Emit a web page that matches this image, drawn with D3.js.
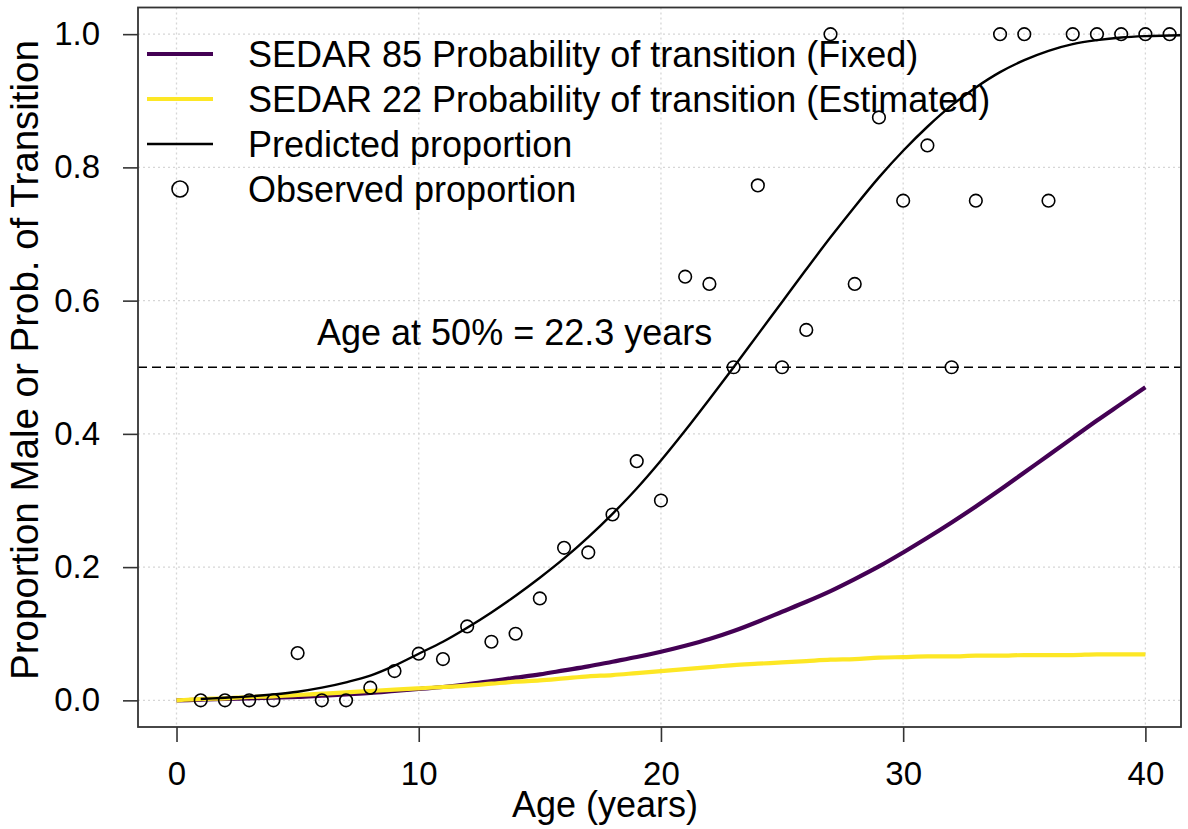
<!DOCTYPE html>
<html>
<head>
<meta charset="utf-8">
<script src="https://cdn.jsdelivr.net/npm/d3@7"></script>
<style>
  html, body { margin: 0; padding: 0; background: #fff; }
  svg { display: block; font-family: "Liberation Sans", Arial, Helvetica, sans-serif; }
</style>
</head>
<body>
<svg id="chart" width="1188" height="829"></svg>
<script>
// ---- data ----
const obsAge = [1,2,3,4,5,6,7,8,9,10,11,12,13,14,15,16,17,18,19,20,21,22,23,24,25,26,27,28,29,30,31,32,33,34,35,36,37,38,39,40,41];
const obsProp = [0,0,0,0,0.071,0,0,0.019,0.044,0.070,0.062,0.111,0.088,0.100,0.153,0.229,0.222,0.279,0.359,0.300,0.636,0.625,0.500,0.773,0.500,0.556,1.0,0.625,0.875,0.750,0.833,0.500,0.750,1.0,1.0,0.750,1.0,1.0,1.0,1.0,1.0];

const predAge = [1,2,3,4,5,6,7,8,9,10,11,12,13,14,15,16,17,18,19,20,21,22,23,24,25,26,27,28,29,30,31,32,33,34,35,36,37,38,39,40,41,42];
const predProp = [0.002,0.004,0.006,0.009,0.013,0.019,0.027,0.037,0.052,0.070,0.088,0.109,0.132,0.157,0.184,0.213,0.245,0.280,0.318,0.360,0.405,0.452,0.500,0.549,0.598,0.647,0.695,0.741,0.785,0.825,0.861,0.893,0.920,0.943,0.961,0.975,0.985,0.991,0.995,0.997,0.998,0.999];

const transAge = [0,1,2,3,4,5,6,7,8,9,10,11,12,13,14,15,16,17,18,19,20,21,22,23,24,25,26,27,28,29,30,31,32,33,34,35,36,37,38,39,40];
const sedar85 = [0,0.001,0.002,0.003,0.004,0.005,0.007,0.009,0.011,0.014,0.017,0.020,0.024,0.029,0.034,0.039,0.045,0.051,0.058,0.065,0.073,0.082,0.092,0.104,0.118,0.133,0.148,0.164,0.182,0.201,0.222,0.244,0.267,0.291,0.316,0.342,0.368,0.394,0.420,0.445,0.470];
const sedar22 = [0,0.002,0.003,0.005,0.006,0.008,0.010,0.012,0.014,0.016,0.018,0.020,0.022,0.025,0.028,0.030,0.033,0.036,0.038,0.041,0.044,0.047,0.050,0.053,0.055,0.057,0.059,0.061,0.062,0.064,0.065,0.066,0.066,0.067,0.067,0.068,0.068,0.068,0.069,0.069,0.069];

const xTicks = [0,10,20,30,40];
const yTicks = [0,0.2,0.4,0.6,0.8,1.0];
const a50Label = "Age at 50% = 22.3 years";
const a50Value = 0.5;
const legendLabels = [
  "SEDAR 85 Probability of transition (Fixed)",
  "SEDAR 22 Probability of transition (Estimated)",
  "Predicted proportion",
  "Observed proportion"
];

// ---- layout ----
const L = 138, R = 1181, T = 7.5, B = 727;
const svg = d3.select("#chart");
const x = d3.scaleLinear().domain([-1.59, 41.47]).range([L, R]);
const y = d3.scaleLinear().domain([-0.04, 1.04]).range([B, T]);

const purple = "#440154", yellow = "#FDE725";

svg.append("defs").append("clipPath").attr("id", "clip")
  .append("rect").attr("x", L).attr("y", T).attr("width", R - L).attr("height", B - T);

// grid
const grid = svg.append("g").attr("stroke", "#d6d6d6").attr("stroke-width", 1.3).attr("stroke-dasharray", "2,3");
grid.selectAll(".gx").data(xTicks).join("line")
  .attr("x1", d => x(d)).attr("x2", d => x(d)).attr("y1", T).attr("y2", B);
grid.selectAll(".gy").data(yTicks).join("line")
  .attr("x1", L).attr("x2", R).attr("y1", d => y(d)).attr("y2", d => y(d));

const plot = svg.append("g").attr("clip-path", "url(#clip)");

// 50% reference line
plot.append("line")
  .attr("x1", L).attr("x2", R).attr("y1", y(a50Value)).attr("y2", y(a50Value))
  .attr("stroke", "#000").attr("stroke-width", 1.4).attr("stroke-dasharray", "9,5");

const line = d3.line().curve(d3.curveMonotoneX);

plot.append("path")
  .attr("d", line(transAge.map((a, i) => [x(a), y(sedar85[i])])))
  .attr("fill", "none").attr("stroke", purple).attr("stroke-width", 4.2);
plot.append("path")
  .attr("d", line(transAge.map((a, i) => [x(a), y(sedar22[i])])))
  .attr("fill", "none").attr("stroke", yellow).attr("stroke-width", 4.2);
plot.append("path")
  .attr("d", line(predAge.map((a, i) => [x(a), y(predProp[i])])))
  .attr("fill", "none").attr("stroke", "#000").attr("stroke-width", 2.4);

plot.selectAll("circle.obs").data(obsAge).join("circle")
  .attr("class", "obs")
  .attr("cx", d => x(d)).attr("cy", (d, i) => y(obsProp[i])).attr("r", 6.3)
  .attr("fill", "none").attr("stroke", "#000").attr("stroke-width", 1.6);

svg.append("text")
  .attr("x", 317).attr("y", 345)
  .attr("font-size", 36).attr("fill", "#000")
  .text(a50Label);

// axes
const xAxis = svg.append("g").attr("transform", `translate(0,${B})`)
  .call(d3.axisBottom(x).tickValues(xTicks).tickSize(15).tickPadding(20).tickFormat(d3.format("d")));
const yAxis = svg.append("g").attr("transform", `translate(${L},0)`)
  .call(d3.axisLeft(y).tickValues(yTicks).tickSize(15).tickPadding(23).tickFormat(d3.format(".1f")));
[xAxis, yAxis].forEach(g => {
  g.select(".domain").remove();
  g.selectAll(".tick line").attr("stroke", "#333").attr("stroke-width", 1.6);
  g.selectAll(".tick text").attr("font-size", 33).attr("fill", "#000")
    .attr("font-family", "Liberation Sans, Arial, sans-serif");
});

// box
svg.append("rect").attr("x", L).attr("y", T).attr("width", R - L).attr("height", B - T)
  .attr("fill", "none").attr("stroke", "#333").attr("stroke-width", 1.8);

// axis titles
svg.append("text").attr("x", 605).attr("y", 817).attr("text-anchor", "middle")
  .attr("font-size", 36).text("Age (years)");
svg.append("text").attr("transform", `translate(38,360) rotate(-90)`)
  .attr("text-anchor", "middle").attr("font-size", 38.5)
  .text("Proportion Male or Prob. of Transition");

// legend
const legY = [54, 99, 144, 189];
const lg = svg.append("g");
const legStyles = [
  {stroke: purple, w: 4.2, type: "line"},
  {stroke: yellow, w: 4.2, type: "line"},
  {stroke: "#000", w: 2.4, type: "line"},
  {stroke: "#000", w: 1.6, type: "pt"}
];
legStyles.forEach((s, i) => {
  if (s.type === "line") {
    lg.append("line").attr("x1", 147).attr("x2", 213).attr("y1", legY[i]).attr("y2", legY[i])
      .attr("stroke", s.stroke).attr("stroke-width", s.w);
  } else {
    lg.append("circle").attr("cx", 180).attr("cy", legY[i]).attr("r", 8)
      .attr("fill", "none").attr("stroke", s.stroke).attr("stroke-width", s.w);
  }
  lg.append("text").attr("x", 248).attr("y", legY[i] + 12.5).attr("font-size", 36)
    .text(legendLabels[i]);
});
</script>
</body>
</html>
